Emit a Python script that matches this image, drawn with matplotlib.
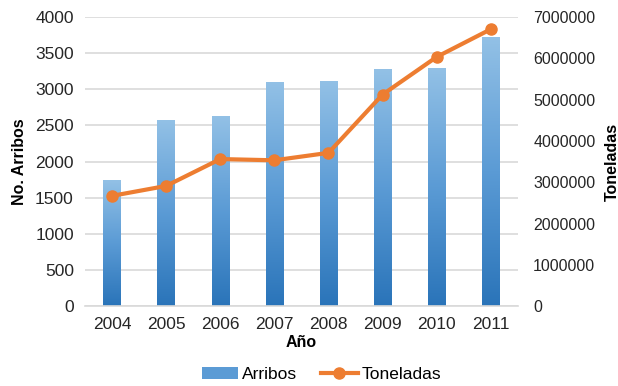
import numpy as np
import matplotlib.pyplot as plt
from matplotlib.colors import LinearSegmentedColormap
from matplotlib.lines import Line2D
from matplotlib.patches import Patch
from matplotlib.ticker import FuncFormatter

plt.rcParams['font.family'] = ['Liberation Sans', 'DejaVu Sans']

years = ['2004', '2005', '2006', '2007', '2008', '2009', '2010', '2011']
arribos = [1750, 2570, 2630, 3095, 3110, 3275, 3290, 3720]
toneladas = [2670000, 2910000, 3560000, 3530000, 3710000, 5120000, 6030000, 6700000]

fig = plt.figure(figsize=(6.18, 3.86), dpi=100)
ax = fig.add_axes([0.1375, 0.2065, 0.7005, 0.75])
ax2 = ax.twinx()

x = np.arange(len(years))
grad = LinearSegmentedColormap.from_list('bl', ['#2a74b9', '#5b9bd5', '#93c1e6'])
bars = ax.bar(x, arribos, width=0.32, color='none', edgecolor='none', zorder=2)
img = np.linspace(0, 1, 256).reshape(-1, 1)
for b in bars:
    x0, w, h = b.get_x(), b.get_width(), b.get_height()
    im = ax.imshow(img, cmap=grad, origin='lower', aspect='auto',
                   extent=[x0, x0 + w, 0, h], zorder=2)
    im.set_clip_path(b)

ax.set_xlim(-0.5, len(years) - 0.5)
ax.set_ylim(0, 4000)
ax.set_yticks(range(0, 4001, 500))
ax.set_xticks(x)
ax.set_xticklabels(years)
ax.grid(axis='y', color='#d9d9d9', lw=1.2, zorder=0)
ax.set_axisbelow(True)

ax2.plot(x, toneladas, color='#ed7d31', lw=3, marker='o', ms=8, zorder=3)
ax2.set_ylim(0, 7000000)
ax2.set_yticks(range(0, 7000001, 1000000))
ax2.yaxis.set_major_formatter(FuncFormatter(lambda v, p: f'{int(v)}'))

for a in (ax, ax2):
    for s in ('top', 'left', 'right'):
        a.spines[s].set_visible(False)
    a.spines['bottom'].set_color('#d9d9d9')
    a.spines['bottom'].set_linewidth(1.2)
    a.tick_params(length=0, labelsize=12.5, colors='#262626', pad=8)
ax2.tick_params(labelsize=11.5, pad=11)
ax2.spines['bottom'].set_visible(False)

ax.set_ylabel('No. Arribos', fontsize=11.5, fontweight='bold', labelpad=6)
ax2.set_ylabel('Toneladas', fontsize=11.5, fontweight='bold')
ax2.yaxis.set_label_coords(1.2, 0.5)
ax.set_xlabel('Año', fontsize=11.5, fontweight='bold', labelpad=2)

handles = [Patch(facecolor='#5b9bd5', label='Arribos'),
           Line2D([], [], color='#ed7d31', lw=3, marker='o', ms=8, label='Toneladas')]
fig.legend(handles=handles, loc='center', bbox_to_anchor=(0.52, 0.03), ncol=2,
           frameon=False, fontsize=12.5, handlelength=2.1, columnspacing=1.4,
           handletextpad=0.2)

fig.savefig('out.png', dpi=100)
